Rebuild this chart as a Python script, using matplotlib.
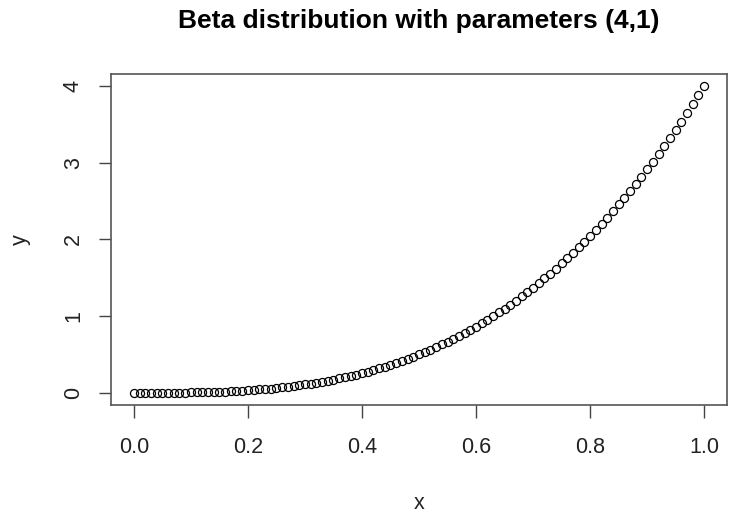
import matplotlib
matplotlib.use("Agg")
import matplotlib.pyplot as plt

plt.rcParams['font.family'] = ['Liberation Sans', 'DejaVu Sans']

x = [0.00, 0.01, 0.02, 0.03, 0.04, 0.05, 0.06, 0.07, 0.08, 0.09,
     0.10, 0.11, 0.12, 0.13, 0.14, 0.15, 0.16, 0.17, 0.18, 0.19,
     0.20, 0.21, 0.22, 0.23, 0.24, 0.25, 0.26, 0.27, 0.28, 0.29,
     0.30, 0.31, 0.32, 0.33, 0.34, 0.35, 0.36, 0.37, 0.38, 0.39,
     0.40, 0.41, 0.42, 0.43, 0.44, 0.45, 0.46, 0.47, 0.48, 0.49,
     0.50, 0.51, 0.52, 0.53, 0.54, 0.55, 0.56, 0.57, 0.58, 0.59,
     0.60, 0.61, 0.62, 0.63, 0.64, 0.65, 0.66, 0.67, 0.68, 0.69,
     0.70, 0.71, 0.72, 0.73, 0.74, 0.75, 0.76, 0.77, 0.78, 0.79,
     0.80, 0.81, 0.82, 0.83, 0.84, 0.85, 0.86, 0.87, 0.88, 0.89,
     0.90, 0.91, 0.92, 0.93, 0.94, 0.95, 0.96, 0.97, 0.98, 0.99,
     1.00]
y = [0.000, 0.000, 0.000, 0.000, 0.000, 0.001, 0.001, 0.001, 0.002, 0.003,
     0.004, 0.005, 0.007, 0.009, 0.011, 0.014, 0.016, 0.020, 0.023, 0.027,
     0.032, 0.037, 0.043, 0.049, 0.055, 0.063, 0.070, 0.079, 0.088, 0.098,
     0.108, 0.119, 0.131, 0.144, 0.157, 0.172, 0.187, 0.203, 0.219, 0.237,
     0.256, 0.276, 0.296, 0.318, 0.341, 0.365, 0.389, 0.415, 0.442, 0.471,
     0.500, 0.531, 0.562, 0.596, 0.630, 0.666, 0.702, 0.741, 0.780, 0.822,
     0.864, 0.908, 0.953, 1.000, 1.049, 1.099, 1.150, 1.203, 1.258, 1.314,
     1.372, 1.432, 1.493, 1.556, 1.621, 1.688, 1.756, 1.826, 1.898, 1.972,
     2.048, 2.126, 2.205, 2.287, 2.371, 2.457, 2.544, 2.634, 2.726, 2.820,
     2.916, 3.014, 3.115, 3.217, 3.322, 3.430, 3.539, 3.651, 3.765, 3.881,
     4.000]
x_ticks = [0.0, 0.2, 0.4, 0.6, 0.8, 1.0]
x_tick_labels = ["0.0", "0.2", "0.4", "0.6", "0.8", "1.0"]
y_ticks = [0, 1, 2, 3, 4]
y_tick_labels = ["0", "1", "2", "3", "4"]
title = "Beta distribution with parameters (4,1)"
x_label = "x"
y_label = "y"

W, H = 729, 514
fig = plt.figure(figsize=(W / 100, H / 100), dpi=100)
ax = fig.add_axes([111 / W, 1 - 405 / H, (727 - 111) / W, (405 - 74) / H])

ax.plot(x, y, linestyle='none', marker='o', markersize=5.8,
        markerfacecolor='none', markeredgecolor='black', markeredgewidth=0.9)

ax.set_xlim(-0.04, 1.04)
ax.set_ylim(-0.16, 4.16)
ax.set_xticks(x_ticks)
ax.set_xticklabels(x_tick_labels)
ax.set_yticks(y_ticks)
ax.set_yticklabels(y_tick_labels, rotation=90, va='center')

for s in ax.spines.values():
    s.set_color('#555555')
    s.set_linewidth(1.2)

ax.tick_params(axis='both', direction='out', length=9, width=1.0,
               color='#444444', labelsize=15.5, labelcolor='#222222')
ax.tick_params(axis='x', pad=14)
ax.tick_params(axis='y', pad=10.5)

fig.text(419 / W, 1 - 509 / H, x_label, fontsize=15.5, color='#222222',
         ha='center', va='baseline')
fig.text(25.5 / W, 1 - 240 / H, y_label, fontsize=15.5, color='#222222',
         rotation=90, rotation_mode='anchor', ha='center', va='baseline')
ax.set_title(title, fontsize=19, fontweight='bold', pad=33)

fig.savefig("out.png", dpi=100, facecolor='white')
